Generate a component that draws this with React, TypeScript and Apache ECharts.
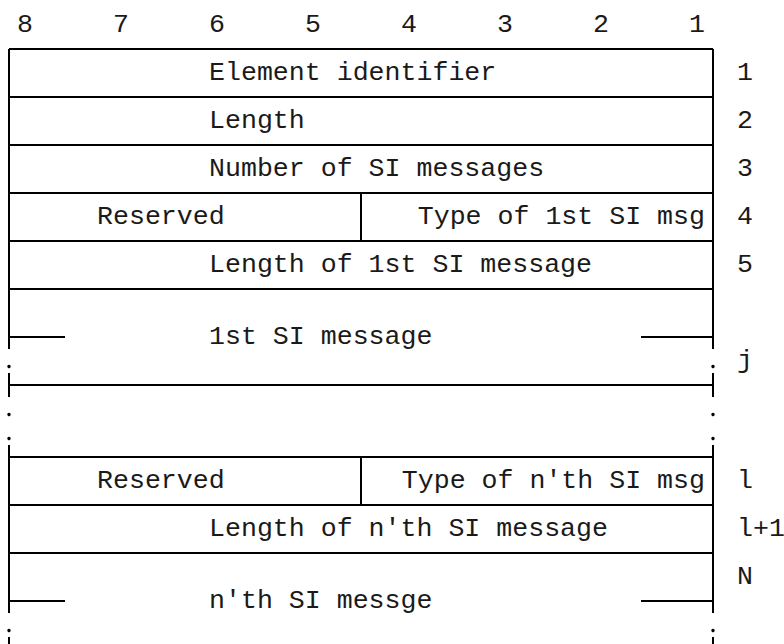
import React, { useEffect, useRef } from 'react';
import * as echarts from 'echarts';

// ---- diagram data ----
const bitLabels = ['8', '7', '6', '5', '4', '3', '2', '1'];
const octetLabels = ['1', '2', '3', '4', '5', 'j', 'l', 'l+1', 'N'];
const octetLines = [2, 4, 6, 8, 10, 14, 19, 21, 23];
const fieldLabels = [
  'Element identifier',
  'Length',
  'Number of SI messages',
  'Reserved',
  'Type of 1st SI msg',
  'Length of 1st SI message',
  '1st SI message',
  'Reserved',
  "Type of n'th SI msg",
  "Length of n'th SI message",
  "n'th SI messge",
];
const fieldLines = [2, 4, 6, 8, 8, 10, 13, 19, 19, 21, 24];
const fieldHighBits = [8, 8, 8, 8, 4, 8, 8, 8, 4, 8, 8];
const fieldLowBits = [1, 1, 1, 5, 1, 1, 1, 5, 1, 1, 1];
const separatorLines = [1, 3, 5, 7, 9, 11, 15, 18, 20, 22];
const continuationLines = [13, 24];
const ellipsisLines = [14, 16, 17, 25];
const borderRuns: number[][] = [
  [1, 13.5],
  [14.5, 15.5],
  [17.5, 24.5],
  [25.5, 26.5],
];
const splitLines = [8, 19];

// ---- layout (character-cell units) ----
const COLS = 44;
const CELL_W = 16;
const LINE_H = 24;
const LEFT_PX = 9;
const TOP_PX = 25;
const W = 784;
const H = 644;
const bitLeft = (b: number) => ((8 - b) * COLS) / 8;
const bitRight = (b: number) => ((9 - b) * COLS) / 8;

const INK = '#000';
const TEXT_INK = '#1a1a1a';
const FONT = { fontFamily: '"Liberation Mono", "Courier New", monospace', fontSize: 26.6 };
const lineStyle = { stroke: INK, lineWidth: 2 };

function seg(api: any, u1: number, r1: number, u2: number, r2: number) {
  const p1 = api.coord([u1, r1]);
  const p2 = api.coord([u2, r2]);
  return {
    type: 'line',
    shape: { x1: p1[0], y1: p1[1], x2: p2[0], y2: p2[1] },
    style: lineStyle,
  };
}

function txt(api: any, u: number, r: number, text: string, align: string) {
  const p = api.coord([u, r]);
  return {
    type: 'text',
    x: p[0],
    y: p[1],
    style: { text, fill: TEXT_INK, ...FONT, align, verticalAlign: 'middle' },
  };
}

export default function App() {
  const ref = useRef<HTMLDivElement>(null);
  useEffect(() => {
    if (!ref.current) return;
    const chart = echarts.init(ref.current, null, { renderer: 'svg' });
    const base = { type: 'custom', coordinateSystem: 'cartesian2d', silent: true, clip: false };
    chart.setOption({
      animation: false,
      grid: { left: 0, right: 0, top: 0, bottom: 0 },
      xAxis: { type: 'value', min: -LEFT_PX / CELL_W, max: (W - LEFT_PX) / CELL_W, show: false },
      yAxis: { type: 'value', inverse: true, min: -TOP_PX / LINE_H, max: (H - TOP_PX) / LINE_H, show: false },
      series: [
        {
          ...base,
          data: separatorLines.map((r) => [0, r]),
          renderItem: (_p: any, api: any) => seg(api, bitLeft(8), api.value(1), bitRight(1), api.value(1)),
        },
        {
          ...base,
          data: continuationLines.map((r) => [0, r]),
          renderItem: (_p: any, api: any) => ({
            type: 'group',
            children: [
              seg(api, bitLeft(8), api.value(1), 3.5, api.value(1)),
              seg(api, COLS - 4.5, api.value(1), bitRight(1), api.value(1)),
            ],
          }),
        },
        {
          ...base,
          data: borderRuns.map(([a, b]) => [a, b]),
          renderItem: (_p: any, api: any) => ({
            type: 'group',
            children: [
              seg(api, bitLeft(8), api.value(0), bitLeft(8), api.value(1)),
              seg(api, bitRight(1), api.value(0), bitRight(1), api.value(1)),
            ],
          }),
        },
        {
          ...base,
          data: splitLines.map((r) => [bitLeft(4), r]),
          renderItem: (_p: any, api: any) => seg(api, api.value(0), api.value(1) - 1, api.value(0), api.value(1) + 1),
        },
        {
          ...base,
          data: ellipsisLines.map((r) => [0, r]),
          renderItem: (_p: any, api: any) => {
            const a = api.coord([bitLeft(8), api.value(1) + 0.23]);
            const b = api.coord([bitRight(1), api.value(1) + 0.23]);
            return {
              type: 'group',
              children: [a, b].map((p) => ({
                type: 'circle',
                shape: { cx: p[0], cy: p[1], r: 1.7 },
                style: { fill: INK },
              })),
            };
          },
        },
        {
          ...base,
          data: fieldLabels.map((_, i) => [fieldHighBits[i], fieldLines[i], fieldLowBits[i]]),
          renderItem: (p: any, api: any) => {
            const hi = api.value(0);
            const lo = api.value(2);
            const r = api.value(1);
            const label = fieldLabels[p.dataIndex];
            if (hi === 8 && lo === 1) return txt(api, bitLeft(8) + 12.5, r, label, 'left');
            if (hi === 8) return txt(api, bitLeft(8) + 5.5, r, label, 'left');
            return txt(api, bitRight(lo) - 0.5, r, label, 'right');
          },
        },
        {
          ...base,
          data: bitLabels.map((_, i) => [1 + 6 * i, 0]),
          renderItem: (p: any, api: any) => txt(api, api.value(0), api.value(1), bitLabels[p.dataIndex], 'center'),
        },
        {
          ...base,
          data: octetLabels.map((_, i) => [COLS + 1.5, octetLines[i]]),
          renderItem: (p: any, api: any) => txt(api, api.value(0), api.value(1), octetLabels[p.dataIndex], 'left'),
        },
      ],
    });
    return () => chart.dispose();
  }, []);
  return <div ref={ref} style={{ position: 'absolute', left: 0, top: 0, width: W, height: H }} />;
}
